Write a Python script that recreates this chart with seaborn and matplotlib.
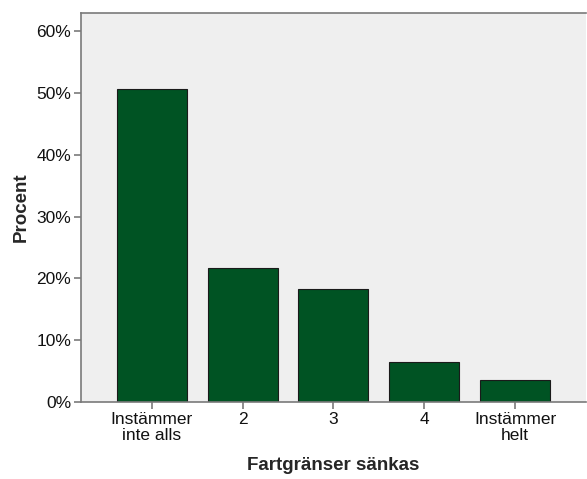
import matplotlib
matplotlib.use("Agg")
import matplotlib.pyplot as plt
import pandas as pd
import seaborn as sns
from matplotlib.ticker import PercentFormatter

# Values
categories = ["Instämmer\ninte alls", "2", "3", "4", "Instämmer\nhelt"]
percent = [50.7, 21.7, 18.3, 6.5, 3.5]
y_ticks = [0, 10, 20, 30, 40, 50, 60]

sns.set_theme(style="ticks")
plt.rcParams["font.family"] = ["Liberation Sans", "DejaVu Sans"]

df = pd.DataFrame({"kategori": categories, "procent": percent})

fig = plt.figure(figsize=(5.87, 4.79), dpi=100)
ax = fig.add_axes([0.138, 0.161, 0.860, 0.812])
ax.set_facecolor("#efefef")

sns.barplot(data=df, x="kategori", y="procent", color="#005323", saturation=1,
            width=0.77, edgecolor="#1a1a1a", linewidth=0.8, ax=ax)

ax.set_xlim(-0.78, 4.78)
ax.set_ylim(0, 63)
ax.set_yticks(y_ticks)
ax.yaxis.set_major_formatter(PercentFormatter(decimals=0))

for side in ["left", "bottom", "top"]:
    ax.spines[side].set_color("#7a7a7a")
    ax.spines[side].set_linewidth(1.2)
ax.spines["right"].set_visible(False)
ax.tick_params(axis="both", colors="#7a7a7a", length=5, width=1.2,
               labelcolor="#111111", labelsize=12.5, pad=2)
for lbl in ax.get_xticklabels():
    lbl.set_linespacing(1.1)

ax.set_xlabel("Fartgränser sänkas", fontsize=13.5, fontweight="bold", labelpad=10)
ax.set_ylabel("Procent", fontsize=13.5, fontweight="bold", labelpad=5)

fig.savefig("out.png", dpi=100)
